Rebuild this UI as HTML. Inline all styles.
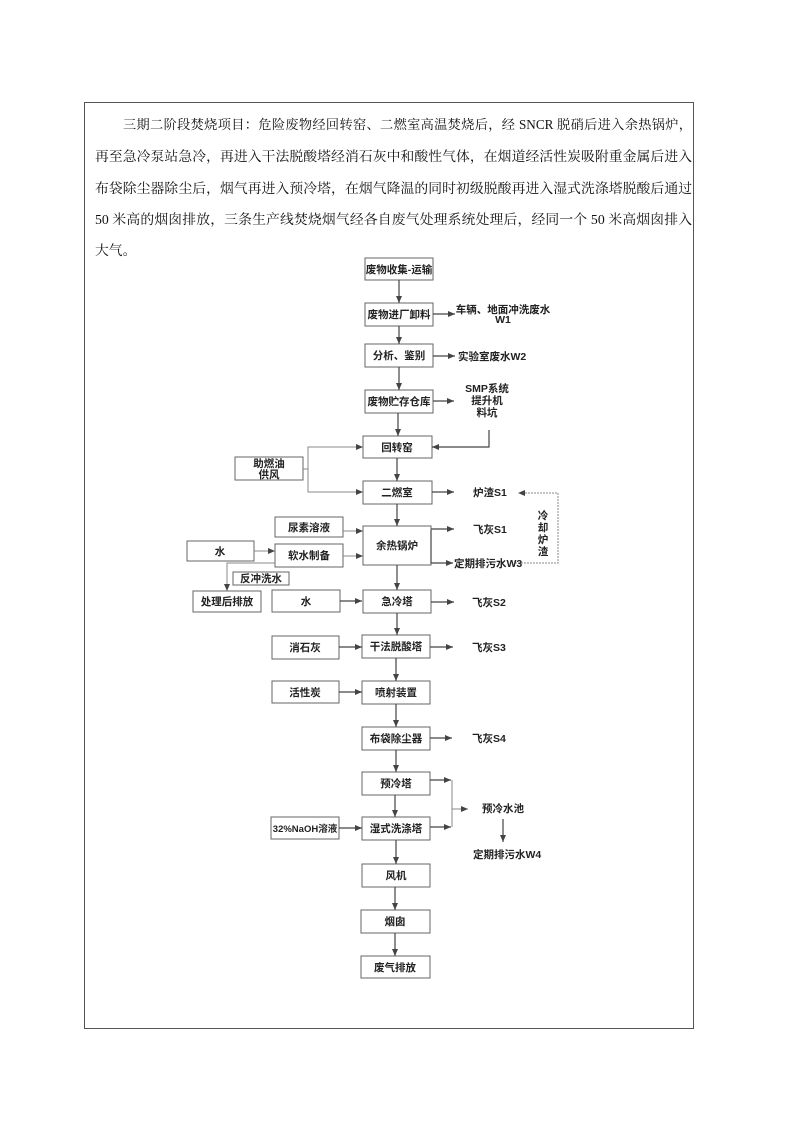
<!DOCTYPE html>
<html><head><meta charset="utf-8"><style>
html,body{margin:0;padding:0;background:#fff;}
body{width:793px;height:1121px;position:relative;overflow:hidden;font-family:"Liberation Serif","Noto Serif CJK SC",serif;}
.frame{position:absolute;left:84px;top:102px;width:610px;height:927px;border:1px solid #555;box-sizing:border-box;}
.t{position:absolute;left:95px;width:597px;font-size:13.8px;line-height:20px;color:#111;text-align:justify;text-align-last:justify;white-space:nowrap;overflow:hidden;}
svg{position:absolute;left:0;top:0;}
svg text{font-family:"Liberation Sans","Noto Sans CJK SC",sans-serif;font-size:10.5px;font-weight:bold;fill:#222;}
</style></head><body>
<div class="frame"></div>
<div class="t" style="top:115px;left:123px;width:569px;font-size:13.2px;">三期二阶段焚烧项目：危险废物经回转窑、二燃室高温焚烧后，经 SNCR 脱硝后进入余热锅炉，</div>
<div class="t" style="top:147px;">再至急冷泵站急冷，再进入干法脱酸塔经消石灰中和酸性气体，在烟道经活性炭吸附重金属后进入</div>
<div class="t" style="top:179px;">布袋除尘器除尘后，烟气再进入预冷塔，在烟气降温的同时初级脱酸再进入湿式洗涤塔脱酸后通过</div>
<div class="t" style="top:210px;">50 米高的烟囱排放，三条生产线焚烧烟气经各自废气处理系统处理后，经同一个 50 米高烟囱排入</div>
<div class="t" style="top:241px;text-align-last:left;">大气。</div>
<svg width="793" height="1121" viewBox="0 0 793 1121">
<defs><marker id="a" markerWidth="8" markerHeight="8" refX="7" refY="4" orient="auto" markerUnits="userSpaceOnUse"><path d="M0,1 L7,4 L0,7z" fill="#444"/></marker></defs>
<g fill="#fff" stroke="#666" stroke-width="1">
<rect x="365" y="258" width="68" height="22"/>
<rect x="365" y="303" width="68" height="23"/>
<rect x="365" y="344" width="68" height="23"/>
<rect x="365" y="390" width="68" height="23"/>
<rect x="363" y="436" width="69" height="22"/>
<rect x="363" y="481" width="69" height="23"/>
<rect x="363" y="526" width="68" height="39"/>
<rect x="363" y="590" width="68" height="23"/>
<rect x="362" y="635" width="68" height="23"/>
<rect x="362" y="681" width="68" height="23"/>
<rect x="362" y="727" width="68" height="23"/>
<rect x="362" y="772" width="68" height="23"/>
<rect x="362" y="817" width="68" height="23"/>
<rect x="362" y="864" width="68" height="23"/>
<rect x="361" y="910" width="69" height="23"/>
<rect x="361" y="956" width="69" height="22"/>
<rect x="235" y="457" width="68" height="23"/>
<rect x="275" y="517" width="68" height="20"/>
<rect x="187" y="541" width="67" height="20"/>
<rect x="275" y="544" width="68" height="23"/>
<rect x="233" y="572" width="56" height="13"/>
<rect x="193" y="591" width="68" height="21"/>
<rect x="272" y="590" width="68" height="22"/>
<rect x="272" y="636" width="67" height="23"/>
<rect x="272" y="681" width="67" height="22"/>
<rect x="271" y="817" width="68" height="22"/>
</g>
<g stroke="#444" stroke-width="1.2" fill="none" marker-end="url(#a)">
<line x1="399" y1="280" x2="399" y2="303"/>
<line x1="399" y1="326" x2="399" y2="344"/>
<line x1="399" y1="367" x2="399" y2="390"/>
<line x1="398" y1="413" x2="398" y2="436"/>
<line x1="397" y1="458" x2="397" y2="481"/>
<line x1="397" y1="504" x2="397" y2="526"/>
<line x1="397" y1="565" x2="397" y2="590"/>
<line x1="397" y1="613" x2="397" y2="635"/>
<line x1="396" y1="658" x2="396" y2="681"/>
<line x1="396" y1="704" x2="396" y2="727"/>
<line x1="396" y1="750" x2="396" y2="772"/>
<line x1="395" y1="795" x2="395" y2="817"/>
<line x1="396" y1="840" x2="396" y2="864"/>
<line x1="395" y1="887" x2="395" y2="910"/>
<line x1="395" y1="933" x2="395" y2="956"/>
<line x1="433" y1="314" x2="455" y2="314"/>
<line x1="433" y1="356" x2="455" y2="356"/>
<line x1="433" y1="401" x2="454" y2="401"/>
<polyline points="489,430 489,447 432,447"/>
<line x1="432" y1="492" x2="454" y2="492"/>
<line x1="431" y1="529" x2="454" y2="529"/>
<polyline points="431,530 431,563 453,563"/>
<line x1="431" y1="602" x2="454" y2="602"/>
<line x1="430" y1="647" x2="453" y2="647"/>
<line x1="430" y1="738" x2="452" y2="738"/>
<line x1="430" y1="780" x2="451" y2="780"/>
<line x1="430" y1="827" x2="451" y2="827"/>
<line x1="340" y1="601" x2="362" y2="601"/>
<line x1="339" y1="647" x2="362" y2="647"/>
<line x1="339" y1="692" x2="362" y2="692"/>
<line x1="339" y1="828" x2="362" y2="828"/>
<line x1="503" y1="819" x2="503" y2="842"/>
</g>
<g stroke="#888" stroke-width="1" fill="none" marker-end="url(#a)">
<polyline points="303,469 308,469 308,447 363,447"/>
<polyline points="308,469 308,492 363,492"/>
<line x1="343" y1="531" x2="363" y2="531"/>
<line x1="343" y1="556" x2="363" y2="556"/>
<line x1="254" y1="551" x2="275" y2="551"/>
<polyline points="275,563 227,563 227,591"/>
<polyline points="515,563 558,563 558,493 518,493" stroke-dasharray="2,1"/>
<line x1="452" y1="809" x2="468" y2="809"/>
</g>
<line x1="452" y1="780" x2="452" y2="827" stroke="#888"/>
<g text-anchor="middle">
<text x="399" y="273">废物收集-运输</text>
<text x="399" y="318">废物进厂卸料</text>
<text x="399" y="359">分析、鉴别</text>
<text x="399" y="405">废物贮存仓库</text>
<text x="397" y="451">回转窑</text>
<text x="397" y="496">二燃室</text>
<text x="397" y="549">余热锅炉</text>
<text x="397" y="605">急冷塔</text>
<text x="396" y="650">干法脱酸塔</text>
<text x="396" y="696">喷射装置</text>
<text x="396" y="742">布袋除尘器</text>
<text x="396" y="787">预冷塔</text>
<text x="396" y="832">湿式洗涤塔</text>
<text x="396" y="879">风机</text>
<text x="395" y="925">烟囱</text>
<text x="395" y="971">废气排放</text>
<text x="269" y="467">助燃油</text>
<text x="269" y="478">供风</text>
<text x="309" y="531">尿素溶液</text>
<text x="220" y="555">水</text>
<text x="309" y="559">软水制备</text>
<text x="261" y="582">反冲洗水</text>
<text x="227" y="605">处理后排放</text>
<text x="306" y="605">水</text>
<text x="305" y="651">消石灰</text>
<text x="305" y="696">活性炭</text>
<text x="305" y="832" style="font-size:9.5px">32%NaOH溶液</text>
<text x="503" y="313">车辆、地面冲洗废水</text>
<text x="503" y="323">W1</text>
<text x="487" y="392">SMP系统</text>
<text x="487" y="404">提升机</text>
<text x="487" y="416">料坑</text>
<text x="503" y="812">预冷水池</text>
<text x="543" y="519">冷</text>
<text x="543" y="531">却</text>
<text x="543" y="543">炉</text>
<text x="543" y="555">渣</text>
</g>
<text x="458" y="360">实验室废水W2</text>
<text x="473" y="496">炉渣S1</text>
<text x="473" y="533">飞灰S1</text>
<text x="454" y="567">定期排污水W3</text>
<text x="472" y="606">飞灰S2</text>
<text x="472" y="651">飞灰S3</text>
<text x="472" y="742">飞灰S4</text>
<text x="473" y="858">定期排污水W4</text>
</svg>
</body></html>
